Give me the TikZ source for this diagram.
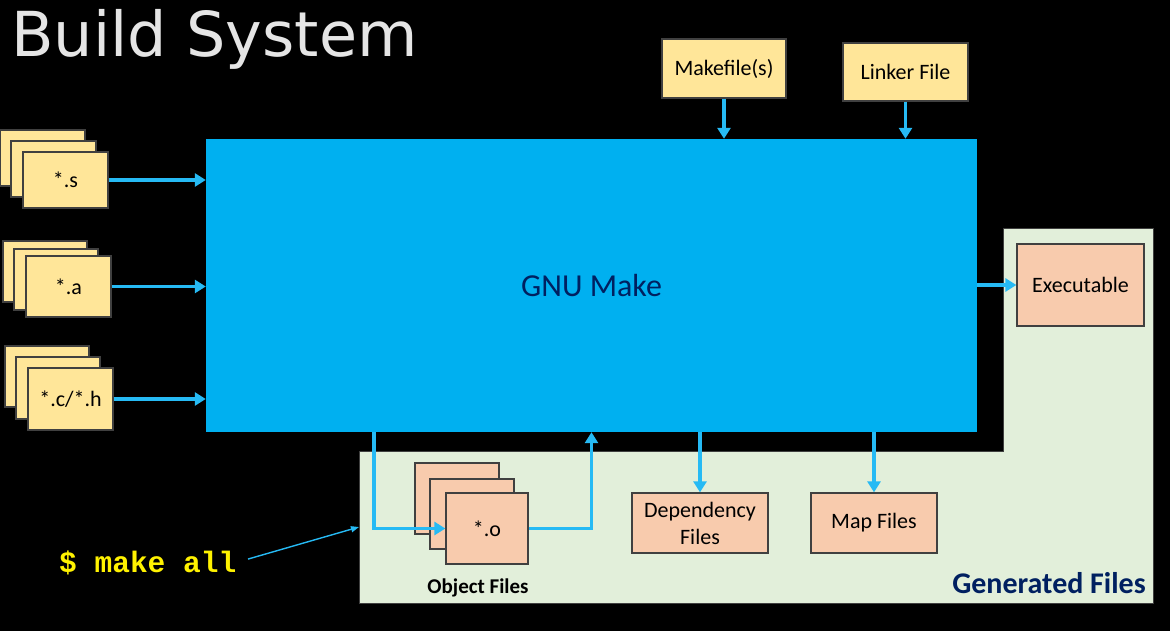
\documentclass[tikz,border=0pt]{standalone}
\usepackage{fontspec}
\setmainfont{Carlito}
\newfontfamily\titlefont{DejaVu Sans}
\newfontfamily\cmdfont{Liberation Mono}
\usetikzlibrary{arrows.meta}
\definecolor{gmblue}{RGB}{0,176,240}
\definecolor{flowblue}{RGB}{38,186,244}
\definecolor{srcyellow}{RGB}{255,230,153}
\definecolor{outorange}{RGB}{248,203,173}
\definecolor{gengreen}{RGB}{226,239,218}
\definecolor{navy}{RGB}{0,32,96}
\definecolor{edgegray}{RGB}{64,64,64}

\begin{document}
\begin{tikzpicture}[x=1pt,y=-1pt,
    srcbox/.style={draw=edgegray,line width=1.3pt,fill=srcyellow,inner sep=0pt,font=\fontsize{22}{27}\selectfont},
    genbox/.style={draw=edgegray,line width=1.3pt,fill=outorange,inner sep=0pt,align=center,font=\fontsize{22}{27}\selectfont},
    flow/.style={flowblue,line width=3.6pt,-{Triangle[length=11pt,width=13pt]}}]
         \fill[black] (0,0) rectangle (1170,631);
         \useasboundingbox (0,0) rectangle (1170,631);
         \node[anchor=base west,inner sep=0pt,text=black!10,font=\titlefont\fontsize{62}{70}\selectfont] (TT) at (11,57) {Build System};
         \filldraw[fill=gengreen,draw=edgegray,line width=1pt] (359,451) -- (1003,451) -- (1003,229) -- (1153,229) -- (1153,603) -- (359,603) -- cycle;
         \node[fill=gmblue,minimum width=771pt,minimum height=293pt,text=navy,font=\fontsize{32}{36}\selectfont] (GM) at (591.5,285.5) {GNU Make};
         \node[srcbox,minimum width=124pt,minimum height=59pt] (MK) at (724,68.5) {Makefile(s)};
         \node[srcbox,minimum width=125pt,minimum height=58pt] (LK) at (905.5,72) {Linker File};
         \node[srcbox,minimum width=85pt,minimum height=56pt] (S3) at (42.5,158) {};
         \node[srcbox,minimum width=85pt,minimum height=56pt] (S2) at (53.5,169) {};
         \node[srcbox,minimum width=85pt,minimum height=56pt] (S1) at (65.5,180) {*.s};
         \node[srcbox,minimum width=84pt,minimum height=61pt] (A3) at (45,271.5) {};
         \node[srcbox,minimum width=84pt,minimum height=61pt] (A2) at (56,279.5) {};
         \node[srcbox,minimum width=85pt,minimum height=61pt] (A1) at (68.5,286.5) {*.a};
         \node[srcbox,minimum width=84pt,minimum height=61pt] (C3) at (47,376.5) {};
         \node[srcbox,minimum width=84pt,minimum height=62pt] (C2) at (58,388) {};
         \node[srcbox,minimum width=85pt,minimum height=62pt] (C1) at (70.5,399) {*.c/*.h};
         \node[genbox,minimum width=127pt,minimum height=82pt] (EX) at (1080.5,285) {Executable};
         \node[genbox,minimum width=136pt,minimum height=60pt] (DF) at (700,523) {Dependency\\Files};
         \node[genbox,minimum width=126pt,minimum height=60pt] (MF) at (874,523) {Map Files};
         \node[genbox,minimum width=84pt,minimum height=71pt] (O3) at (457,498.5) {};
         \node[genbox,minimum width=84pt,minimum height=70pt] (O2) at (472,514) {};
         \node[genbox,minimum width=82pt,minimum height=71pt] (O1) at (487,528.5) {*.o};
         \node[font=\bfseries\fontsize{21}{25}\selectfont] (OF) at (478,588) {Object Files};
         \node[anchor=east,inner sep=0pt,text=navy,font=\bfseries\fontsize{30}{34}\selectfont] (GF) at (1146,583) {Generated Files};
         \node[anchor=base west,inner sep=0pt,text=yellow,font=\cmdfont\bfseries\fontsize{29.5}{34}\selectfont] (CMD) at (59,572) {\$ make all};
         \coordinate (TAP) at (374,432);
         \coordinate (GL) at (359,527);
         \draw[flow] (S1.east) -- (S1.east -| GM.west);
         \draw[flow] (A1.east) -- (A1.east -| GM.west);
         \draw[flow] (C1.east) -- (C1.east -| GM.west);
         \draw[flow] (MK.south) -- (MK.south |- GM.north);
         \draw[flow] (LK.south) -- (LK.south |- GM.north);
         \draw[flow] (GM.east |- EX.west) -- (EX.west);
         \draw[flow] (DF.north |- GM.south) -- (DF.north);
         \draw[flow] (MF.north |- GM.south) -- (MF.north);
         \draw[flow] (TAP) |- (O1.west);
         \draw[flow] (O1.east) -| (GM.south);
         \draw[flowblue,line width=1.4pt,-{Triangle[length=8pt,width=6pt]},shorten <=12pt] (CMD.east) -- (GL);
 \end{tikzpicture}
\end{document}
